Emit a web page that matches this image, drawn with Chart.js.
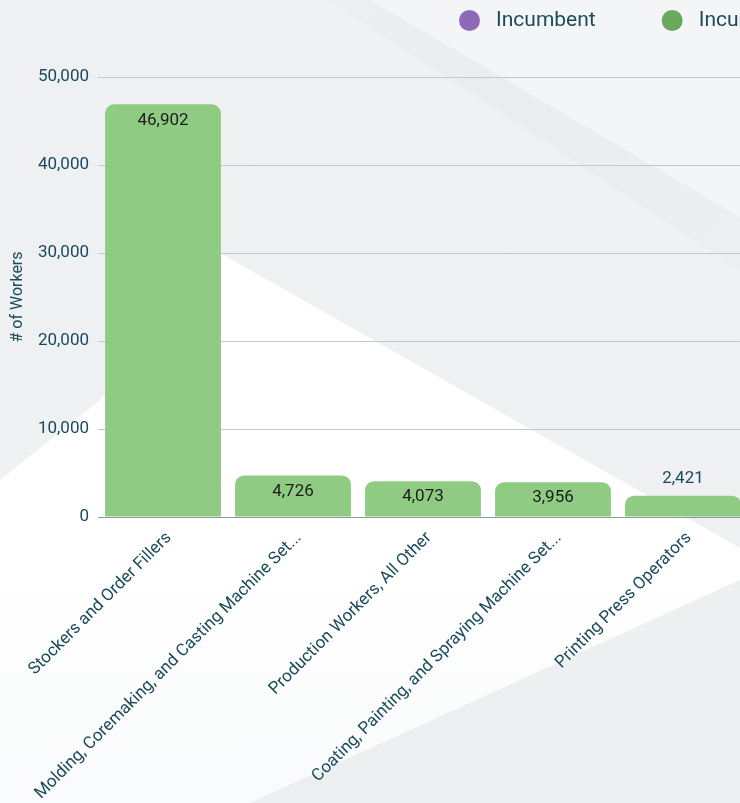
<!DOCTYPE html>
<html>
<head>
<meta charset="utf-8">
<title>Workers by Occupation</title>
<script src="https://cdn.jsdelivr.net/npm/chart.js@4.4.1/dist/chart.umd.min.js"></script>
<style>
    html, body {
        margin: 0;
        padding: 0;
        width: 740px;
        height: 803px;
        overflow: hidden;
    }
    body {
        position: relative;
        background: linear-gradient(180deg, #eef0f2 0%, #f0f1f3 100%);
        font-family: Roboto, "Noto Sans", sans-serif;
    }
    .bg {
        position: absolute;
        left: 0;
        top: 0;
        width: 740px;
        height: 803px;
    }
    /* soft geometric backdrop */
    .bg-top {
        background: #f4f5f6;
        clip-path: polygon(370px 0, 740px 0, 740px 217px);
    }
    .bg-streak {
        background: linear-gradient(120deg, #f1f2f4 0%, #eaecef 45%, #eef0f2 100%);
        clip-path: polygon(330px 0, 370px 0, 740px 217px, 740px 270px);
    }
    .bg-mid {
        background: linear-gradient(180deg, #ffffff 0%, #ffffff 70%, #f9fafb 100%);
        clip-path: polygon(220px 253px, 740px 548px, 740px 580px, 250px 803px, 0 803px, 0 480px, 100px 400px);
    }
    .bg-low {
        background: linear-gradient(200deg, #f0f1f3 0%, #eceef0 100%);
        clip-path: polygon(740px 580px, 740px 803px, 250px 803px);
    }
    #chart-wrap {
        position: absolute;
        left: 0;
        top: 0;
        width: 760px;
        height: 803px;
    }
</style>
</head>
<body>
<div class="bg bg-top"></div>
<div class="bg bg-streak"></div>
<div class="bg bg-mid"></div>
<div class="bg bg-low"></div>
<div id="chart-wrap">
    <canvas id="workersChart" width="760" height="803"></canvas>
</div>
<script>
// occupations as shown on the axis (long names are cut off)
const occupations = [
    "Stockers and Order Fillers",
    "Molding, Coremaking, and Casting Machine Set...",
    "Production Workers, All Other",
    "Coating, Painting, and Spraying Machine Set...",
    "Printing Press Operators",
];

const incumbentCounts = [null, null, null, null, null];
const workerCounts = [46902, 4726, 4073, 3956, 2421];

const yTicks = [0, 10000, 20000, 30000, 40000, 50000];

const textColor = "#1a4b5b";
const barGreen = "#90cb83";
const legendGreen = "#6aa85f";
const legendPurple = "#8e69b8";
const fontFamily = "Roboto, 'Noto Sans', sans-serif";

function formatNumber(v) {
    return Number(v).toLocaleString("en-US");
}

// value labels: inside the bar top when it fits, otherwise above it
const valueLabels = {
    id: "valueLabels",
    afterDatasetsDraw(chart) {
        const ctx = chart.ctx;
        chart.data.datasets.forEach((ds, i) => {
            const meta = chart.getDatasetMeta(i);
            if (meta.hidden) {
                return;
            }
            meta.data.forEach((bar, j) => {
                const v = ds.data[j];
                if (v === null || v === undefined) {
                    return;
                }
                const h = bar.base - bar.y;
                ctx.save();
                ctx.font = "17px " + fontFamily;
                ctx.textAlign = "center";
                ctx.textBaseline = "middle";
                if (h > 28) {
                    ctx.fillStyle = "#1c1c1c";
                    ctx.fillText(formatNumber(v), bar.x, bar.y + 16);
                } else {
                    ctx.fillStyle = textColor;
                    ctx.fillText(formatNumber(v), bar.x, bar.y - 17);
                }
                ctx.restore();
            });
        });
    },
};

// legend row across the top, dot + label per dataset
const topLegend = {
    id: "topLegend",
    afterDraw(chart) {
        const ctx = chart.ctx;
        const y = 20;
        let x = 459;
        ctx.save();
        ctx.font = "21px " + fontFamily;
        ctx.textBaseline = "middle";
        chart.data.datasets.forEach((ds) => {
            ctx.fillStyle = ds.borderColor;
            ctx.beginPath();
            ctx.arc(x + 10.5, y + 0.5, 10.5, 0, Math.PI * 2);
            ctx.fill();
            ctx.fillStyle = textColor;
            ctx.fillText(ds.label, x + 37, y + 1);
            x += 37 + ctx.measureText(ds.label).width + 66;
        });
        ctx.restore();
    },
};

const ctx = document.getElementById("workersChart").getContext("2d");

new Chart(ctx, {
    type: "bar",
    data: {
        labels: occupations,
        datasets: [
            {
                label: "Incumbent",
                data: incumbentCounts,
                backgroundColor: legendPurple,
                borderColor: legendPurple,
                borderWidth: 0,
            },
            {
                label: "Incumbent Workers",
                data: workerCounts,
                backgroundColor: barGreen,
                borderColor: legendGreen,
                borderWidth: 0,
                borderRadius: { topLeft: 9, topRight: 9, bottomLeft: 0, bottomRight: 0 },
                borderSkipped: "start",
            },
        ],
    },
    options: {
        responsive: false,
        animation: false,
        datasets: {
            bar: {
                barPercentage: 0.9,
                categoryPercentage: 0.99,
            },
        },
        layout: {
            padding: { top: 77, right: 12, left: 0, bottom: 0 },
        },
        plugins: {
            legend: { display: false },
            tooltip: { enabled: false },
        },
        scales: {
            x: {
                stacked: true,
                grid: { display: false, drawTicks: false },
                border: { display: false },
                afterFit(scale) {
                    scale.height = 286;
                },
                ticks: {
                    autoSkip: false,
                    minRotation: 45,
                    maxRotation: 45,
                    padding: 11,
                    labelOffset: 6,
                    color: textColor,
                    font: { family: fontFamily, size: 17 },
                },
            },
            y: {
                stacked: true,
                min: yTicks[0],
                max: yTicks[yTicks.length - 1],
                afterFit(scale) {
                    scale.width = 98;
                },
                afterBuildTicks(scale) {
                    scale.ticks = yTicks.map((v) => ({ value: v }));
                },
                ticks: {
                    padding: 9,
                    color: textColor,
                    font: { family: fontFamily, size: 17 },
                    callback: (v) => formatNumber(v),
                },
                grid: {
                    drawTicks: false,
                    lineWidth: 1,
                    color: (c) =>
                        c.tick && c.tick.value === 0 ? "#8e9ba6" : "#bfc9d1",
                },
                border: { display: false },
                title: {
                    display: true,
                    text: "# of Workers",
                    color: textColor,
                    font: { family: fontFamily, size: 16 },
                    padding: { top: 8, bottom: 0 },
                },
            },
        },
    },
    plugins: [valueLabels, topLegend],
});
</script>
</body>
</html>
